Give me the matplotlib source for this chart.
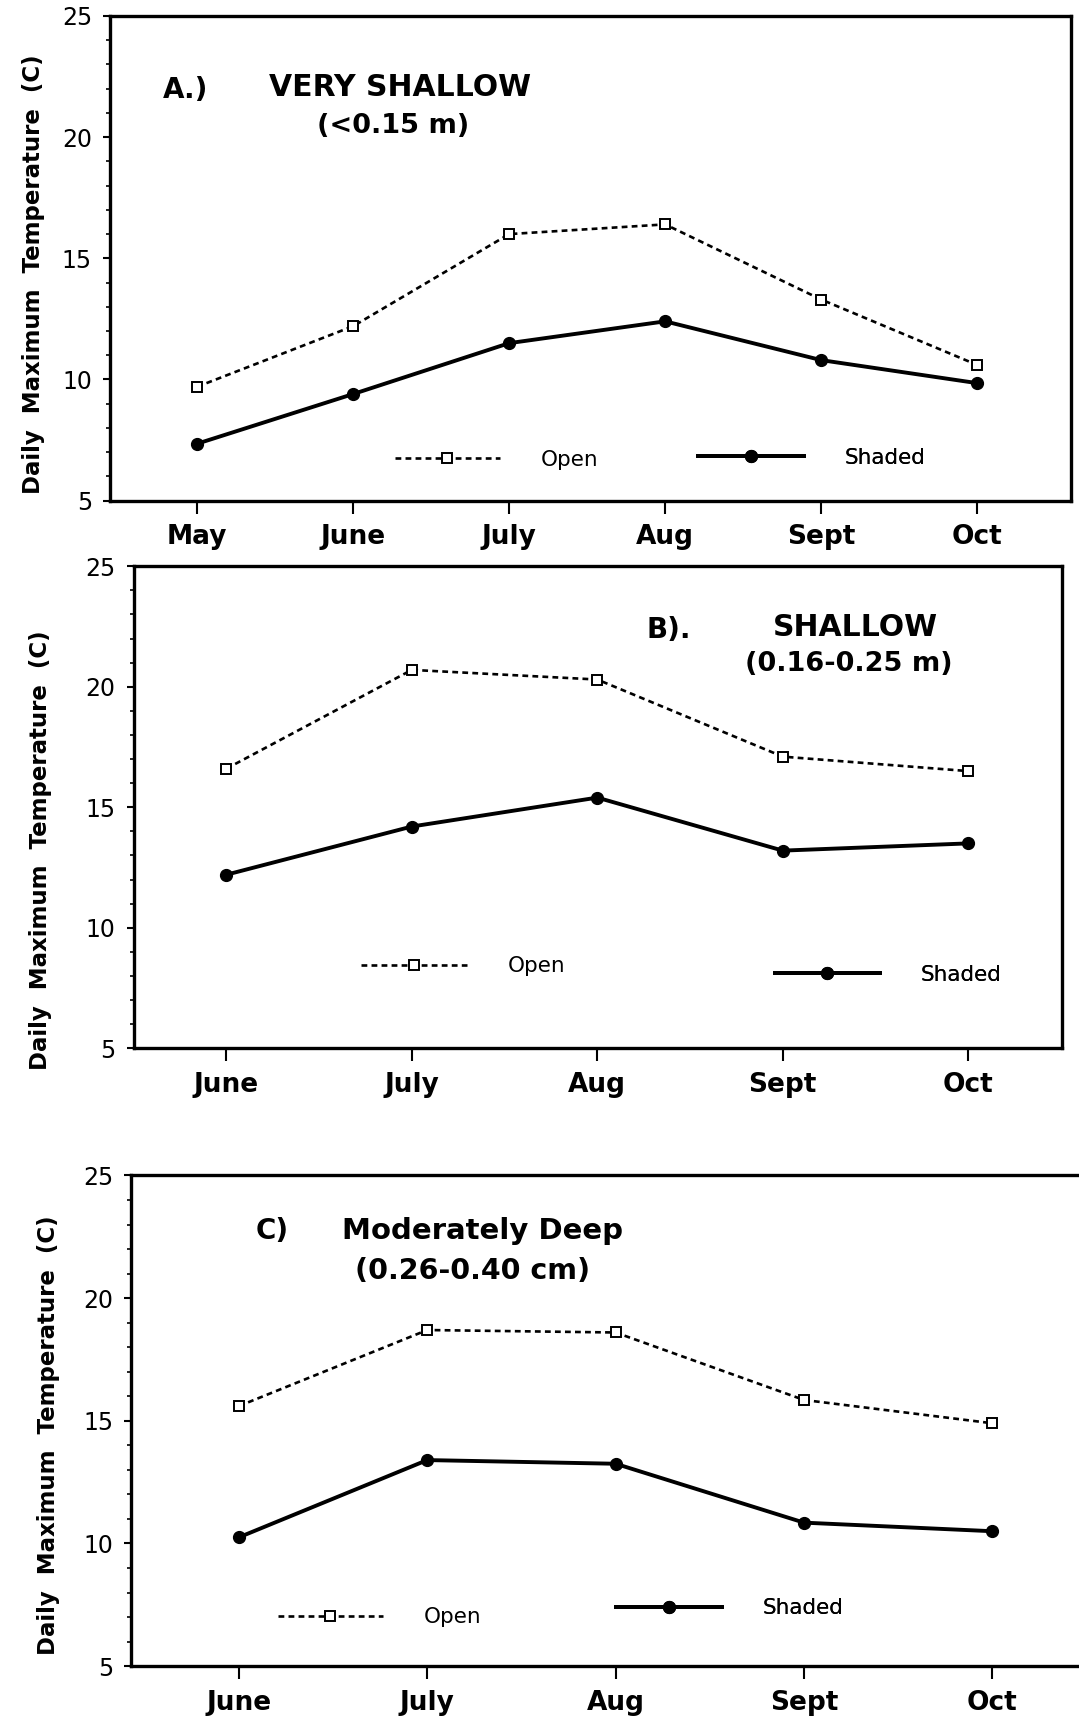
import matplotlib

matplotlib.use("Agg")
import matplotlib.pyplot as plt
from matplotlib.ticker import MultipleLocator

# Panel A: very shallow
months_a = ["May", "June", "July", "Aug", "Sept", "Oct"]
open_a = [9.7, 12.2, 16.0, 16.4, 13.3, 10.6]
shaded_a = [7.35, 9.4, 11.5, 12.4, 10.8, 9.85]

# Panel B: shallow
months_b = ["June", "July", "Aug", "Sept", "Oct"]
open_b = [16.6, 20.7, 20.3, 17.1, 16.5]
shaded_b = [12.2, 14.2, 15.4, 13.2, 13.5]

# Panel C: moderately deep
months_c = ["June", "July", "Aug", "Sept", "Oct"]
open_c = [15.6, 18.7, 18.6, 15.85, 14.9]
shaded_c = [10.25, 13.4, 13.25, 10.85, 10.5]

y_ticks = [5, 10, 15, 20, 25]
y_label = "Daily  Maximum  Temperature  (C)"

NARROW = ["Liberation Sans Narrow", "DejaVu Sans Condensed", "DejaVu Sans"]
BOLD = ["DejaVu Sans"]


def draw_panel(fig, rect, xlim, months, open_vals, shaded_vals, ylabel_pos,
               titles, legend_pos, right_spine=True):
    ax = fig.add_axes(rect)
    x = list(range(len(months)))
    ax.plot(x, open_vals, color="black", lw=1.9, ls=(0, (2.2, 1.6)),
            marker="s", ms=7, mfc="white", mec="black", mew=1.4)
    ax.plot(x, shaded_vals, color="black", lw=2.8, ls="-",
            marker="o", ms=8.5, mfc="black", mec="black")

    ax.set_xlim(*xlim)
    ax.set_ylim(5, 25)
    ax.set_xticks(x)
    ax.set_xticklabels(months, fontsize=19, fontweight="bold", family=BOLD)
    ax.set_yticks(y_ticks)
    ax.set_yticklabels([str(v) for v in y_ticks], fontsize=17, family=NARROW)
    ax.yaxis.set_minor_locator(MultipleLocator(1))
    ax.tick_params(axis="x", direction="out", length=9, width=1.5, pad=8)
    ax.tick_params(axis="y", which="major", direction="out", length=5,
                   width=1.5, pad=8)
    ax.tick_params(axis="y", which="minor", direction="out", length=3,
                   width=1.2)

    for side in ["left", "bottom", "top", "right"]:
        ax.spines[side].set_linewidth(2.4)
    if not right_spine:
        ax.spines["right"].set_visible(False)

    ax.set_ylabel(y_label, fontsize=16.5, fontweight="bold", family=BOLD)
    ax.yaxis.set_label_coords(*ylabel_pos)

    for tx, ty, text, ha, size in titles:
        ax.text(tx, ty, text, transform=ax.transAxes, ha=ha, va="center",
                fontsize=size, fontweight="bold", family=NARROW)

    open_handle = ax.lines[0]
    shaded_handle = ax.lines[1]
    for handle, label, pos in [(open_handle, "Open", legend_pos[0]),
                               (shaded_handle, "Shaded", legend_pos[1])]:
        leg = ax.legend([handle], [label], loc="center left",
                        bbox_to_anchor=pos, frameon=False, borderpad=0,
                        borderaxespad=0, handlelength=4.9, handletextpad=1.9,
                        numpoints=1, prop={"family": NARROW, "size": 15.5})
        ax.add_artist(leg)
    return ax


fig = plt.figure(figsize=(10.79, 17.17), dpi=100)

draw_panel(
    fig, [0.102, 0.7084, 0.891, 0.2823], (-0.558, 5.604),
    months_a, open_a, shaded_a, (-0.068, 0.468),
    [(0.055, 0.848, "A.)", "left", 20),
     (0.302, 0.853, "VERY SHALLOW", "center", 21.5),
     (0.294, 0.774, "(<0.15 m)", "center", 19.5)],
    [(0.296, 0.084), (0.612, 0.088)],
)

draw_panel(
    fig, [0.1238, 0.3895, 0.8609, 0.2807], (-0.50, 4.508),
    months_b, open_b, shaded_b, (-0.088, 0.41),
    [(0.552, 0.868, "B).", "left", 20),
     (0.777, 0.873, "SHALLOW", "center", 21.5),
     (0.770, 0.798, "(0.16-0.25 m)", "center", 19.5)],
    [(0.245, 0.170), (0.690, 0.152)],
)

draw_panel(
    fig, [0.1218, 0.0296, 0.9282, 0.2858], (-0.57, 4.746),
    months_c, open_c, shaded_c, (-0.071, 0.47),
    [(0.124, 0.886, "C)", "left", 20),
     (0.351, 0.886, "Moderately Deep", "center", 21),
     (0.341, 0.806, "(0.26-0.40 cm)", "center", 20.5)],
    [(0.146, 0.100), (0.484, 0.118)],
    right_spine=False,
)

fig.savefig("out.png", dpi=100)
